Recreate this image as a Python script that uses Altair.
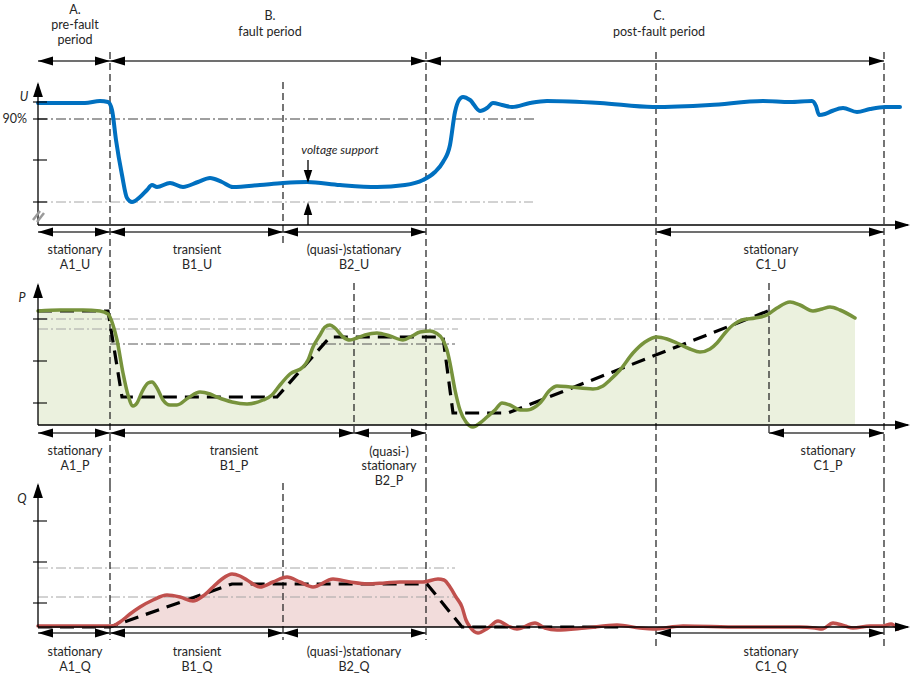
import altair as alt
import pandas as pd

FONT = "Lato"
TEXT = "#262626"
LINE = "#404040"

# ---------------------------------------------------------------------------
# Time markers (time units from the start of the record)
# ---------------------------------------------------------------------------
T_START = 0
T_FAULT = 72        # A -> B
T_B2_UQ = 245       # B1 -> B2 for U and Q
T_B2_P = 316        # B1 -> B2 for P
T_CLEAR = 388       # B -> C
T_C1_UQ = 618       # start of stationary C1 for U and Q
T_C1_P = 731        # start of stationary C1 for P
T_END = 846
T_AXIS = 872

# ---------------------------------------------------------------------------
# Voltage U (arbitrary units above the broken axis)
# ---------------------------------------------------------------------------
u_t = [0, 22, 47, 62, 70, 74, 78, 84, 89, 94, 102, 109, 114, 119, 132, 145, 160,
       172, 184, 195, 222, 245, 269, 302, 339, 367, 385, 397, 405, 412, 417, 421,
       425, 432, 442, 449, 455, 464, 474, 492, 509, 562, 615, 672, 725, 752, 774,
       778, 781, 787, 794, 805, 819, 832, 847, 862]
u_v = [122, 122, 122, 124, 123, 115, 85, 50, 27, 23, 28, 35, 40, 38, 42, 38, 43,
       47, 43, 38, 40, 42, 43, 40, 38, 40, 45, 53, 63, 80, 113, 125,
       128, 125, 114, 117, 122, 120, 118, 122, 124, 122, 118, 120, 124, 123, 124,
       119, 110, 111, 114, 117, 113, 116, 118, 118]
U_NOM = 123
U_90 = 106
U_TICK = 65
U_LOW = 23

# ---------------------------------------------------------------------------
# Active power P
# ---------------------------------------------------------------------------
p_t = [0, 22, 45, 62, 70, 75, 79, 85, 90, 95, 99, 104, 110, 114, 119, 125, 132,
       139, 150, 162, 172, 179, 194, 209, 225, 234, 242, 252, 265, 270, 275, 282,
       287, 292, 297, 305, 312, 319, 327, 339, 352, 365, 374, 382, 392, 398, 405,
       409, 412, 417, 422, 428, 435, 442, 449, 457, 464, 472, 482, 489, 497, 502,
       512, 519, 532, 555, 565, 572, 582, 595, 607, 619, 629, 639, 652, 662, 672,
       679, 687, 695, 704, 717, 729, 739, 752, 762, 775, 784, 792, 802, 817]
p_v = [114, 115, 115, 114, 111, 100, 85, 52, 30, 19, 22, 33, 42, 43, 37, 25, 20,
       20, 27, 33, 31, 28, 23, 21, 25, 30, 40, 51, 58, 65, 78, 90,
       98, 100, 97, 88, 85, 87, 90, 92, 89, 85, 89, 93, 94, 92, 85,
       75, 62, 35, 15, 3, -2, 2, 8, 15, 22, 20, 15, 15, 18, 22,
       35, 39, 38, 36, 39, 45, 55, 72, 83, 88, 86, 82, 76, 73, 76,
       82, 92, 100, 105, 107, 110, 117, 123, 120, 114, 116, 118, 115, 107]
p_ref_t = [0, 70, 84, 239, 292, 405, 415, 470, 730]
p_ref_v = [114, 114, 28, 28, 88, 88, 12, 12, 114]
P_TICKS = [106, 64, 22]

# ---------------------------------------------------------------------------
# Reactive power Q
# ---------------------------------------------------------------------------
q_t = [0, 42, 72, 77, 82, 92, 102, 115, 129, 142, 155, 165, 175, 184, 194, 202,
       209, 222, 235, 249, 262, 275, 295, 312, 329, 347, 362, 385, 400, 406, 412,
       418, 424, 428, 432, 440, 450, 460, 470, 479, 497, 507, 519, 547, 579, 602,
       615, 645, 702, 762, 777, 784, 795, 807, 815, 832, 845, 853, 860]
q_v = [1, 1, 1, 2, 5, 13, 20, 27, 32, 30, 26, 31, 40, 48, 53, 51,
       47, 40, 45, 50, 45, 40, 48, 45, 43, 44, 45, 45, 48, 47, 40,
       30, 20, 7, 0, -6, -1, 6, 1, -2, 4, -1, -3, -1, 2, -1,
       -2, 1, 0, 0, -1, -2, 4, 1, -1, 1, 1, 3, -2]
q_ref_t = [0, 72, 194, 389, 424, 582]
q_ref_v = [0, 0, 43, 43, 0, 0]
Q_TICKS = [106, 65, 24]

# ---------------------------------------------------------------------------
# Scales and shared helpers
# ---------------------------------------------------------------------------
XS = alt.Scale(domain=[-38, 872], nice=False, zero=False)
HEAD = {
    "left": "M0,0L2,-0.6L2,0.6Z",
    "right": "M0,0L-2,-0.6L-2,0.6Z",
    "up": "M0,0L-0.65,2L0.65,2Z",
    "down": "M0,0L-0.65,-2L0.65,-2Z",
}


def xy(ys, xf="t", yf="v"):
    return dict(x=alt.X(f"{xf}:Q", scale=XS, axis=None),
                y=alt.Y(f"{yf}:Q", scale=ys, axis=None))


def segments(rows, ys, color=LINE, width=1.0, dash=None):
    df = pd.DataFrame(rows, columns=["t0", "v0", "t1", "v1"])
    kw = dict(color=color, strokeWidth=width)
    if dash:
        kw["strokeDash"] = dash
    return alt.Chart(df).mark_rule(**kw).encode(
        x=alt.X("t0:Q", scale=XS, axis=None), x2="t1:Q",
        y=alt.Y("v0:Q", scale=ys, axis=None), y2="v1:Q")


def heads(points, direction, ys, size=225):
    df = pd.DataFrame(points, columns=["t", "v"])
    return alt.Chart(df).mark_point(
        shape=HEAD[direction], filled=True, color="black", size=size,
        opacity=1, strokeWidth=0).encode(**xy(ys))


def spans(pairs, level, ys):
    """Double-headed arrows between pairs of times at one level."""
    rows = [(a, level, b, level) for a, b in pairs]
    return [segments(rows, ys, width=1.3),
            heads([(a, level) for a, _ in pairs], "left", ys),
            heads([(b, level) for _, b in pairs], "right", ys)]


def labels(rows, ys, size=12.5, italic=False, align="center"):
    df = pd.DataFrame(rows, columns=["t", "v", "label"])
    kw = dict(font=FONT, fontSize=size, color=TEXT, align=align, baseline="middle")
    if italic:
        kw["fontStyle"] = "italic"
    return alt.Chart(df).mark_text(**kw).encode(text="label:N", **xy(ys))


def vdashes(rows, ys):
    return segments([(t, a, t, b) for t, a, b in rows], ys,
                    color="#1a1a1a", width=1.2, dash=[7, 4])


def axes(ys, top, ticks):
    return [
        segments([(0, 0, 0, top - 2)], ys, color="black", width=1.3),
        segments([(0, 0, T_AXIS - 2, 0)], ys, color="black", width=1.3),
        segments([(-5, v, 9, v) for v in ticks], ys, color="black", width=1.1),
        heads([(0, top)], "up", ys),
        heads([(T_AXIS, 0)], "right", ys),
    ]


def curve(t, v, color, fill, ys, width=3.5):
    df = pd.DataFrame({"t": t, "v": v})
    layers = []
    if fill:
        layers.append(alt.Chart(df).mark_area(
            interpolate="monotone", color=fill, opacity=1).encode(
            y2=alt.datum(0), **xy(ys)))
    layers.append(alt.Chart(df).mark_line(
        interpolate="monotone", color=color, strokeWidth=width,
        strokeCap="round", strokeJoin="round").encode(**xy(ys)))
    return layers


def reference(t, v, ys):
    df = pd.DataFrame({"t": t, "v": v})
    return alt.Chart(df).mark_line(color="black", strokeWidth=3.2,
                                   strokeDash=[14, 8]).encode(**xy(ys))


DASHDOT = [10, 3, 2, 3]
GREY = "#a6a6a6"

# ---------------------------------------------------------------------------
# Panel 1: period headers and voltage
# ---------------------------------------------------------------------------
Y1 = alt.Scale(domain=[-55, 225], nice=False, zero=False)
panel_u = alt.layer(
    segments([(0, U_90, 497, U_90)], Y1, color=LINE, dash=DASHDOT),
    segments([(0, U_LOW, 495, U_LOW)], Y1, color=GREY, dash=DASHDOT),
    vdashes([(T_FAULT, 173, -55), (T_CLEAR, 173, -55), (T_C1_UQ, 173, -55),
             (T_END, 173, -55), (T_B2_UQ, 143, -22)], Y1),
    *curve(u_t, u_v, "#0070C0", None, Y1, width=4),
    *axes(Y1, 143, [U_NOM, U_90, U_TICK, U_LOW]),
    segments([(-5, 5, 2, 14), (-1, 3, 6, 12)], Y1, color="#9a9a9a", width=2.5),
    *spans([(T_START, T_FAULT), (T_FAULT, T_CLEAR), (T_CLEAR, T_END)], 164, Y1),
    *spans([(T_START, T_FAULT), (T_FAULT, T_B2_UQ), (T_B2_UQ, T_CLEAR),
            (T_C1_UQ, T_END)], -7, Y1),
    segments([(270, 65, 270, 44), (270, 0, 270, 20)], Y1, color="black", width=1.3),
    heads([(270, 42)], "down", Y1, size=169),
    heads([(270, U_LOW)], "up", Y1, size=169),
    labels([(37, 215, "A."), (37, 200, "pre-fault"), (37, 185, "period"),
            (232, 209, "B."), (232, 193, "fault period"),
            (621, 209, "C."), (621, 193, "post-fault period"),
            (37, -25, "stationary"), (37, -40, "A1_U"),
            (159, -25, "transient"), (159, -40, "B1_U"),
            (316, -25, "(quasi-)stationary"), (316, -40, "B2_U"),
            (733, -25, "stationary"), (733, -40, "C1_U")], Y1),
    labels([(-11, U_90, "90%")], Y1, align="right"),
    labels([(-14, 128, "U")], Y1, italic=True),
    labels([(302, 75, "voltage support")], Y1, size=12, italic=True),
).properties(width=910, height=280)

# ---------------------------------------------------------------------------
# Panel 2: active power
# ---------------------------------------------------------------------------
Y2 = alt.Scale(domain=[-60, 145], nice=False, zero=False)
panel_p = alt.layer(
    *curve(p_t, p_v, "#77933C", "#EBF1DE", Y2)[:1],
    segments([(0, 106, 707, 106), (0, 96, 420, 96)], Y2, color=GREY, dash=DASHDOT),
    segments([(T_FAULT, 81, 417, 81)], Y2, color="#595959", dash=DASHDOT),
    vdashes([(T_FAULT, 145, -60), (T_CLEAR, 145, -60), (T_C1_UQ, 145, -60),
             (T_END, 145, -60), (T_B2_P, 142, -8), (T_C1_P, 142, -8)], Y2),
    reference(p_ref_t, p_ref_v, Y2),
    *curve(p_t, p_v, "#77933C", None, Y2),
    *axes(Y2, 142, P_TICKS),
    *spans([(T_START, T_FAULT), (T_FAULT, T_B2_P), (T_B2_P, T_CLEAR),
            (T_C1_P, T_END)], -8, Y2),
    labels([(37, -26, "stationary"), (37, -41, "A1_P"),
            (196, -26, "transient"), (196, -41, "B1_P"),
            (351, -27, "(quasi-)"), (351, -41, "stationary"), (351, -56, "B2_P"),
            (790, -26, "stationary"), (790, -41, "C1_P")], Y2),
    labels([(-16, 127, "P")], Y2, italic=True),
).properties(width=910, height=205)

# ---------------------------------------------------------------------------
# Panel 3: reactive power
# ---------------------------------------------------------------------------
Y3 = alt.Scale(domain=[-48, 142], nice=False, zero=False)
panel_q = alt.layer(
    *curve(q_t, q_v, "#C0504D", "#F2DCDB", Y3)[:1],
    segments([(0, 59, 417, 59), (0, 30, 417, 30)], Y3, color=GREY, dash=DASHDOT),
    vdashes([(T_FAULT, 142, -13), (T_CLEAR, 142, -13), (T_B2_UQ, 144, -13),
             (T_C1_UQ, 142, -23), (T_END, 142, -23)], Y3),
    reference(q_ref_t, q_ref_v, Y3),
    *curve(q_t, q_v, "#C0504D", None, Y3),
    *axes(Y3, 144, Q_TICKS),
    *spans([(T_START, T_FAULT), (T_FAULT, T_B2_UQ), (T_B2_UQ, T_CLEAR),
            (T_C1_UQ, T_END)], -6, Y3),
    labels([(37, -25, "stationary"), (37, -40, "A1_Q"),
            (159, -25, "transient"), (159, -40, "B1_Q"),
            (316, -25, "(quasi-)stationary"), (316, -40, "B2_Q"),
            (733, -25, "stationary"), (733, -40, "C1_Q")], Y3),
    labels([(-16, 128, "Q")], Y3, italic=True),
).properties(width=910, height=190)

chart = alt.vconcat(panel_u, panel_p, panel_q, spacing=0, bounds="flush").properties(
    padding=0, background="white"
).configure_view(strokeWidth=0)

chart.save("out.html", embed_options={"renderer": "svg", "actions": False})
